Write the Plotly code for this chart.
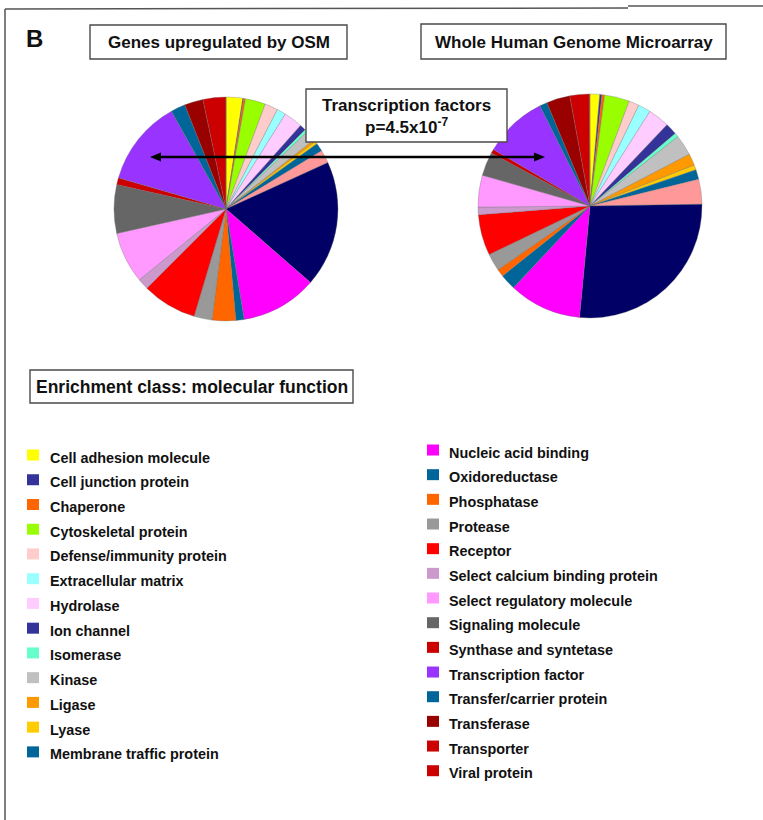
import plotly.graph_objects as go

W, H = 763, 820

# PANTHER molecular-function classes (clockwise from 12 o'clock)
categories = [
    "Cell adhesion molecule", "Cell junction protein", "Chaperone",
    "Cytoskeletal protein", "Defense/immunity protein", "Extracellular matrix",
    "Hydrolase", "Ion channel", "Isomerase", "Kinase", "Ligase", "Lyase",
    "Membrane traffic protein", "Miscellaneous function",
    "Molecular function unclassified", "Nucleic acid binding", "Oxidoreductase",
    "Phosphatase", "Protease", "Receptor", "Select calcium binding protein",
    "Select regulatory molecule", "Signaling molecule", "Synthase and syntetase",
    "Transcription factor", "Transfer/carrier protein", "Transferase",
    "Transporter", "Viral protein",
]

colors = [
    "#FFFF00", "#333399", "#FF6600", "#99FF00", "#FFCCCC", "#99FFFF",
    "#FFCCFF", "#333399", "#66FFCC", "#C0C0C0", "#FF9900", "#FFCC00",
    "#006699", "#FF9999", "#000066", "#FF00FF", "#006699", "#FF6600",
    "#999999", "#FF0000", "#CC99CC", "#FF99FF", "#666666", "#CC0000",
    "#9933FF", "#006699", "#990000", "#CC0000", "#CC0000",
]

# share of genes (%) per class
osm_upregulated = [
    2.4, 0.1, 0.3, 2.9, 1.9, 1.3, 2.7, 0.9, 0.4, 1.5, 0.3, 0.4, 1.2, 1.9,
    18.2, 11.0, 1.2, 3.4, 2.6, 7.9, 1.6, 7.4, 7.0, 1.0, 12.4, 2.1, 2.7,
    3.3, 0.0,
]
whole_genome = [
    1.4, 0.3, 0.4, 3.6, 1.5, 1.8, 3.1, 1.7, 0.6, 3.0, 1.7, 0.7, 1.4, 3.6,
    26.8, 10.5, 2.3, 1.1, 2.5, 5.9, 1.1, 4.6, 3.4, 0.6, 9.2, 1.1, 3.4,
    2.8, 0.1,
]

legend_left = categories[:13]
legend_right = categories[15:]
legend_left_colors = colors[:13]
legend_right_colors = colors[15:]

FONT = "Liberation Sans, Arial, sans-serif"


def px(x):
    return x / W


def py(y):
    return 1 - y / H


def pie(values, cx, cy, r):
    return go.Pie(
        labels=categories,
        values=values,
        sort=False,
        direction="clockwise",
        rotation=0,
        marker=dict(colors=colors, line=dict(color="rgba(110,110,110,0.55)", width=0.6)),
        textinfo="none",
        hoverinfo="label+percent",
        showlegend=False,
        domain=dict(x=[px(cx - r), px(cx + r)], y=[py(cy + r), py(cy - r)]),
    )


fig = go.Figure()
fig.add_trace(pie(osm_upregulated, 226, 209, 112))
fig.add_trace(pie(whole_genome, 590, 206, 112))

shapes = []
annotations = []


def box(x0, y0, x1, y1, fill="rgba(0,0,0,0)"):
    shapes.append(dict(
        type="rect", xref="paper", yref="paper",
        x0=px(x0), x1=px(x1), y0=py(y1), y1=py(y0),
        line=dict(color="#4a4a4a", width=1.4), fillcolor=fill, layer="above",
    ))


def label(text, x, y, size, anchor="center"):
    annotations.append(dict(
        text=text, x=px(x), y=py(y), xref="paper", yref="paper",
        xanchor=anchor, yanchor="middle", showarrow=False,
        font=dict(family=FONT, size=size, color="#111111"),
    ))


def paper_path(points):
    return "M " + " L ".join("%.5f,%.5f" % (px(x), py(y)) for x, y in points) + " Z"


# panel frame
for (x0, y0, x1, y1) in [(5, 9, 5, 820), (5, 9, 628, 8), (628, 6, 763, 6)]:
    shapes.append(dict(type="line", xref="paper", yref="paper",
                       x0=px(x0), y0=py(y0), x1=px(x1), y1=py(y1),
                       line=dict(color="#555555", width=1.5)))

# panel letter and pie titles
label("<b>B</b>", 24, 38, 24, anchor="left")
box(90, 25, 347, 59)
label("<b>Genes upregulated by OSM</b>", 218.5, 42, 17)
box(421, 24, 726, 59)
label("<b>Whole Human Genome Microarray</b>", 573.5, 42, 17)

# transcription factor call-out with a double-headed arrow between the pies
box(306, 89, 507, 142, fill="white")
label("<b>Transcription factors<br>p=4.5x10<sup>-7</sup></b>", 406.5, 116, 17)
ay, ax0, ax1, head, half = 157, 150, 545, 11, 4.5
shapes.append(dict(type="line", xref="paper", yref="paper",
                   x0=px(ax0 + head - 1), x1=px(ax1 - head + 1), y0=py(ay), y1=py(ay),
                   line=dict(color="#000000", width=2.5), layer="above"))
for tip, d in [(ax0, 1), (ax1, -1)]:
    shapes.append(dict(type="path", xref="paper", yref="paper",
                       path=paper_path([(tip, ay), (tip + d * head, ay - half),
                                        (tip + d * head, ay + half)]),
                       fillcolor="#000000", line=dict(width=0), layer="above"))

# legend heading
box(30, 370, 353, 403)
label("<b>Enrichment class: molecular function</b>", 191.5, 387, 17.5)

# two-column legend
for i, (name, col) in enumerate(zip(legend_left, legend_left_colors)):
    yc = 457.5 + 24.74 * i
    shapes.append(dict(type="rect", xref="paper", yref="paper",
                       x0=px(27), x1=px(39), y0=py(yc + 3), y1=py(yc - 8),
                       line=dict(width=0), fillcolor=col))
    label("<b>%s</b>" % name, 47.5, yc, 14.4, anchor="left")

for i, (name, col) in enumerate(zip(legend_right, legend_right_colors)):
    yc = 452.5 + 24.67 * i
    shapes.append(dict(type="rect", xref="paper", yref="paper",
                       x0=px(427), x1=px(439), y0=py(yc + 3), y1=py(yc - 8),
                       line=dict(width=0), fillcolor=col))
    label("<b>%s</b>" % name, 447, yc, 14.4, anchor="left")

fig.update_layout(
    width=W, height=H,
    margin=dict(l=0, r=0, t=0, b=0),
    paper_bgcolor="white", plot_bgcolor="white",
    shapes=shapes, annotations=annotations,
    font=dict(family=FONT),
)

fig.write_html("out.html")
